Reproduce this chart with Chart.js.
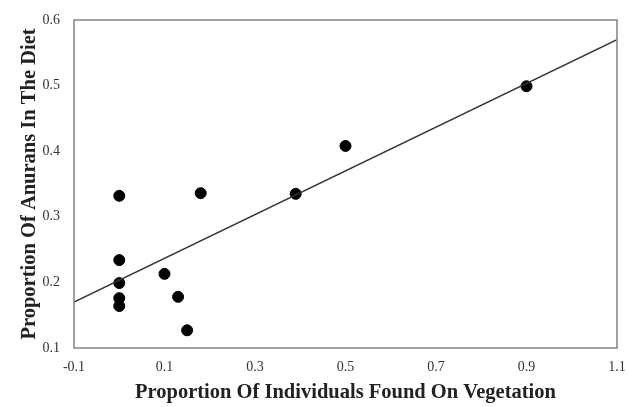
<!DOCTYPE html>
<html><head><meta charset="utf-8">
<script src="https://cdn.jsdelivr.net/npm/chart.js@4/dist/chart.umd.min.js"></script>
<style>html,body{margin:0;padding:0;background:#fff}#wrap{width:629px;height:407px}</style>
</head><body><div id="wrap"><canvas id="c" width="629" height="407"></canvas></div>
<script>
const vegX = [0.0, 0.0, 0.0, 0.0, 0.0, 0.10, 0.13, 0.15, 0.18, 0.39, 0.50, 0.90];
const dietY = [0.332, 0.234, 0.199, 0.176, 0.164, 0.213, 0.178, 0.127, 0.336, 0.335, 0.408, 0.499];
const fitX = [-0.1, 1.1];
const fitY = [0.170, 0.570];
const xTicks = [-0.1, 0.1, 0.3, 0.5, 0.7, 0.9, 1.1];
const yTicks = [0.1, 0.2, 0.3, 0.4, 0.5, 0.6];
const xTitle = 'Proportion Of Individuals Found On Vegetation';
const yTitle = 'Proportion Of Anurans In The Diet';

const frame = {
  id: 'frame',
  afterDatasetsDraw(chart) {
    const a = chart.chartArea, ctx = chart.ctx;
    ctx.save();
    ctx.strokeStyle = '#8a8a8a';
    ctx.lineWidth = 1.6;
    ctx.strokeRect(a.left, a.top, a.right - a.left, a.bottom - a.top);
    ctx.restore();
  }
};

new Chart(document.getElementById('c'), {
  type: 'scatter',
  data: {
    datasets: [
      {
        type: 'line',
        data: fitX.map((x, i) => ({x, y: fitY[i]})),
        borderColor: '#333',
        borderWidth: 1.3,
        pointRadius: 0,
        fill: false
      },
      {
        data: vegX.map((x, i) => ({x, y: dietY[i]})),
        backgroundColor: '#000',
        borderColor: '#000',
        pointRadius: 5.5,
        pointHoverRadius: 5.5
      }
    ]
  },
  options: {
    responsive: false,
    animation: false,
    events: [],
    layout: {padding: {left: 0, right: 12, top: 20, bottom: 0}},
    plugins: {legend: {display: false}, tooltip: {enabled: false}},
    scales: {
      x: {
        type: 'linear', min: -0.1, max: 1.1,
        afterBuildTicks: s => { s.ticks = xTicks.map(v => ({value: v})); },
        afterFit: s => { s.height = 59; s.paddingLeft = 0; s.paddingRight = 0; },
        grid: {display: false, drawTicks: false},
        border: {display: false},
        ticks: {
          color: '#333', padding: 11,
          font: {family: 'Liberation Serif', size: 14},
          callback: v => String(Math.round(v * 10) / 10)
        },
        title: {display: true, text: xTitle, color: '#222', padding: {top: 0, bottom: 2},
          font: {family: 'Liberation Serif', size: 20.5, weight: 'bold'}}
      },
      y: {
        type: 'linear', min: 0.1, max: 0.6,
        afterBuildTicks: s => { s.ticks = yTicks.map(v => ({value: v})); },
        afterFit: s => { s.width = 74; s.paddingTop = 0; s.paddingBottom = 0; },
        grid: {display: false, drawTicks: false},
        border: {display: false},
        ticks: {
          color: '#333', padding: 14,
          font: {family: 'Liberation Serif', size: 14},
          callback: v => String(Math.round(v * 10) / 10)
        },
        title: {display: true, text: yTitle, color: '#222', padding: {top: 17, bottom: 0},
          font: {family: 'Liberation Serif', size: 20.5, weight: 'bold'}}
      }
    }
  },
  plugins: [frame]
});
</script>
</body></html>
